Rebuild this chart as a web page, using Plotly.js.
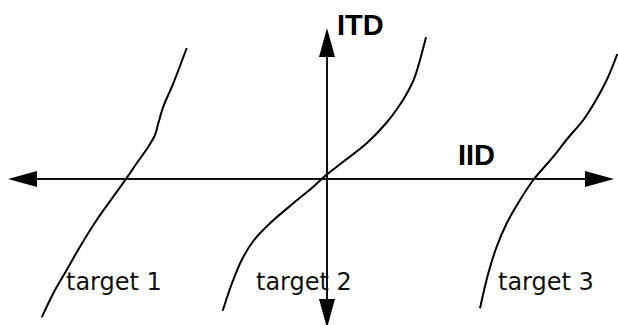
<!DOCTYPE html>
<html>
<head>
<meta charset="utf-8">
<script src="https://cdn.plot.ly/plotly-3.0.1.min.js"></script>
<style>html,body{margin:0;padding:0;background:#fff;}#chart{width:618px;height:325px;}</style>
</head>
<body>
<div id="chart"></div>
<script>
// Curve data: IID (x) and ITD (y), origin at the axes crossing
const iid_target1 = [-140.3, -153.7, -163.7, -168.7, -172, -178.7, -190.3, -201.3, -213.7, -230.3, -247, -260.3, -272, -285.3];
const itd_target1 = [131, 95.7, 72.3, 55.7, 44, 32.3, 15.7, -0.3, -17.7, -41, -67.7, -91, -111, -138.3];

const iid_target2 = [-104.3, -95.3, -85.3, -73.7, -57, -33.7, -13.7, -2, 16.3, 39.7, 59.7, 70, 79, 87, 93, 99];
const itd_target2 = [-131.7, -105, -81, -62, -44.3, -24.3, -7.7, 3, 17.3, 35.7, 56.5, 70, 84, 100, 119, 141.7];

const iid_target3 = [153, 161.3, 169.7, 179.7, 193, 206.3, 226.3, 239.7, 256.3, 268, 279.7, 290.3];
const itd_target3 = [-129.3, -94.3, -67.7, -44.3, -21, -1, 22.3, 39.5, 59, 77.3, 99, 125];

const targetNames = ['target 1', 'target 2', 'target 3'];
const axisNames = ['ITD', 'IID'];

// Axis extents (ends of the double arrows)
const iidAxisEnds = [-319, 287];
const itdAxisEnds = [-149, 151];

const curves = [[iid_target1, itd_target1], [iid_target2, itd_target2], [iid_target3, itd_target3]];
const traces = curves.map((c, i) => ({
  x: c[0], y: c[1], type: 'scatter', mode: 'lines', name: targetNames[i],
  line: {color: '#000', width: 2, shape: 'spline', smoothing: 1},
  hoverinfo: 'skip', showlegend: false
}));

function arrowHead(tx, ty, dx, dy, len, hw) {
  const bx = tx - dx * len, by = ty - dy * len;
  const px = -dy * hw, py = dx * hw;
  return `M${tx},${ty} L${bx + px},${by + py} L${bx - px},${by - py} Z`;
}
const headLen = 29, headHalf = 8;
const shapes = [
  {type: 'line', x0: iidAxisEnds[0] + 10, x1: iidAxisEnds[1] - 10, y0: 0, y1: 0, line: {color: '#111', width: 2}},
  {type: 'line', x0: 0, x1: 0, y0: itdAxisEnds[0] + 10, y1: itdAxisEnds[1] - 10, line: {color: '#111', width: 2}},
  {type: 'path', path: arrowHead(iidAxisEnds[0], 0, -1, 0, headLen, headHalf), fillcolor: '#000', line: {width: 0}},
  {type: 'path', path: arrowHead(iidAxisEnds[1], 0, 1, 0, headLen, headHalf), fillcolor: '#000', line: {width: 0}},
  {type: 'path', path: arrowHead(0, itdAxisEnds[1], 0, 1, headLen, headHalf), fillcolor: '#000', line: {width: 0}},
  {type: 'path', path: arrowHead(0, itdAxisEnds[0], 0, -1, headLen, headHalf), fillcolor: '#000', line: {width: 0}}
];

const labelFont = {family: 'DejaVu Sans', size: 24, color: '#111'};
const axisFont = {family: 'Liberation Sans', size: 29, color: '#000', weight: 'bold'};
const targetLabelPos = [[-213, -103], [-23.5, -103], [219, -103]];
const axisLabelPos = [[33.5, 154], [149.5, 24.5]];

const annotations = [];
targetNames.forEach((t, i) => annotations.push({
  x: targetLabelPos[i][0], y: targetLabelPos[i][1], xref: 'x', yref: 'y', text: t,
  showarrow: false, xanchor: 'center', yanchor: 'middle', font: labelFont
}));
axisNames.forEach((t, i) => annotations.push({
  x: axisLabelPos[i][0], y: axisLabelPos[i][1], xref: 'x', yref: 'y', text: t,
  showarrow: false, xanchor: 'center', yanchor: 'middle', font: axisFont
}));

const layout = {
  width: 618, height: 325,
  margin: {l: 0, r: 0, t: 0, b: 0, pad: 0},
  paper_bgcolor: '#fff', plot_bgcolor: '#fff',
  xaxis: {range: [-327, 291], visible: false, showgrid: false, zeroline: false, fixedrange: true},
  yaxis: {range: [-146, 179], visible: false, showgrid: false, zeroline: false, fixedrange: true},
  shapes: shapes, annotations: annotations, showlegend: false
};
Plotly.newPlot('chart', traces, layout, {staticPlot: true, displayModeBar: false});
</script>
</body>
</html>
